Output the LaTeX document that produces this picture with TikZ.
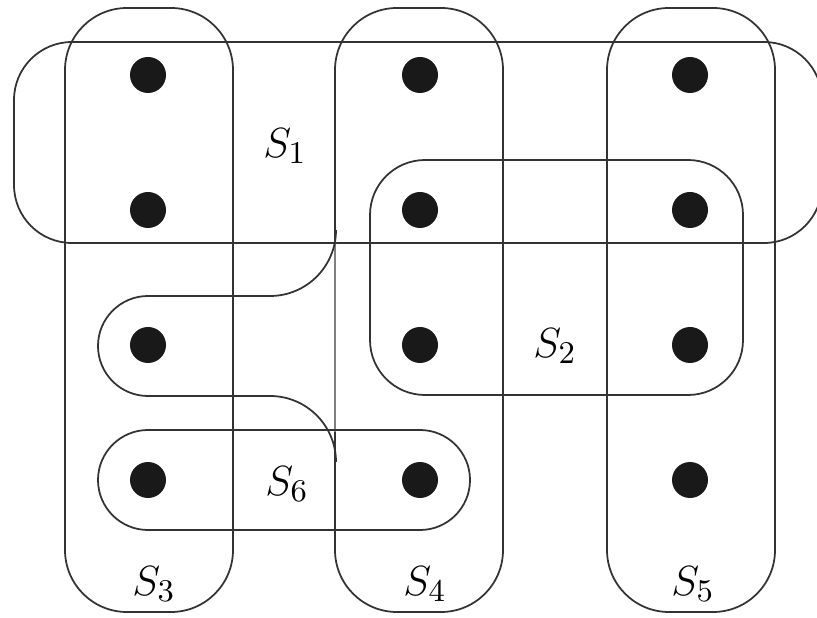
\documentclass[tikz,border=0pt]{standalone}
\usetikzlibrary{positioning}

\tikzset{
  dot/.style={circle, fill=black!90, draw=none, minimum size=3.6mm, inner sep=0pt},
  setlabel/.style={inner sep=0pt, font=\fontsize{13}{15}\selectfont},
}

\begin{document}
\begin{tikzpicture}[x=0.1mm, y=-0.1mm, line join=round, line width=0.5pt, draw=black!80]
  \useasboundingbox (0,0) rectangle (817,618);
  % the three tall columns S3, S4, S5
  \draw[rounded corners=6.2mm] (65,8) rectangle (233,612);
  \draw[rounded corners=6.2mm] (335,8) rectangle (503,612);
  \draw[rounded corners=6.2mm] (607,8) rectangle (775,612);
  % thin middle piece of the S4 edge
  \draw[white, line width=1.2pt] (335,246) -- (335,428);
  \draw[black!50, line width=0.3pt] (335,240) -- (335,432);
  % wide band S1 (runs off the right side)
  \draw[rounded corners=5.8mm] (14,42) rectangle (822,243);
  % square block S2
  \draw[rounded corners=5.5mm] (370,160) rectangle (743,395);
  % S6: lower pill
  \draw[rounded corners=5mm] (98,430) rectangle (470,530);
  % S6: snake round the middle left dot
  \draw (336,230) arc (0:90:66) -- (148,296) arc (270:90:50)
    -- (270,396) arc (-90:0:66);
  % points, row by row
  \foreach \x/\c in {148/a, 420/b, 690/c}{
    \foreach \y/\r in {75/1, 210/2, 345/3, 480/4}{
      \node[dot] (\c\r) at (\x,\y) {};
    }
  }
  % set names
  \node[setlabel] (s1) at (285,146) {$S_1$};
  \node[setlabel] (s2) at (555,346) {$S_2$};
  \node[setlabel] (s3) at (154,584) {$S_3$};
  \node[setlabel] (s4) at (425,584) {$S_4$};
  \node[setlabel] (s5) at (693,584) {$S_5$};
  \node[setlabel] (s6) at (287,484) {$S_6$};
\end{tikzpicture}
\end{document}
